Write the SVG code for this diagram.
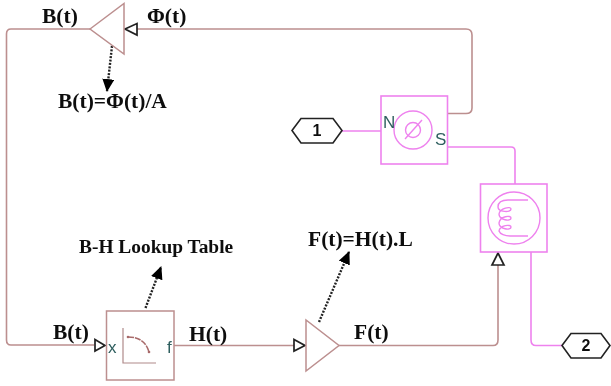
<svg xmlns="http://www.w3.org/2000/svg" width="611" height="386" viewBox="0 0 611 386">
<defs>
<filter id="soft" x="-2%" y="-2%" width="104%" height="104%"><feGaussianBlur stdDeviation="0.45"/></filter>
<marker id="dot" markerUnits="userSpaceOnUse" markerWidth="14" markerHeight="14" refX="12" refY="6" orient="auto"><path d="M0 0L13 6L0 12Z" fill="#000"/></marker>
</defs>
<style>
text{font-family:"Liberation Serif",serif;font-weight:bold;fill:#111}
.l{font-size:21.500px}
.m{font-size:19.400px}
.b{fill:none;stroke:#bc8f8f;stroke-width:1.6}
.br{fill:#fff;stroke:#bc8f8f;stroke-width:1.5}
.p{fill:none;stroke:#ee82ee;stroke-width:1.6}
.pr{fill:#fff;stroke:#ee82ee;stroke-width:1.6}
.ah{fill:#fff;stroke:#222;stroke-width:1.7}
.dots{fill:none;stroke:#222;stroke-width:2.4;stroke-dasharray:2 1.4}
.hex{fill:#fff;stroke:#222;stroke-width:1.6}
.n{font-family:"Liberation Sans",sans-serif;font-size:16px;font-weight:bold;text-anchor:middle}
.s{font-family:"Liberation Sans",sans-serif;font-size:17px;font-weight:normal;fill:#2f5f5f}
.t{fill:none;stroke:#b08a8a;stroke-width:1.2}
.c{fill:none;stroke:#ee82ee;stroke-width:1.4}
</style>
<g filter="url(#soft)">
<g id="connectors">
<path class="b" d="M90 29H11Q6.500 29 6.500 34V340Q6.500 345 11 345H94"/>
<path class="b" d="M137 29H466Q472 29 472 35V108Q472 113.500 466 113.500H447"/>
<path class="b" d="M174 345.500H295"/>
<path class="b" d="M339 345.500H493Q498 345.500 498 340V265"/>
<path class="p" d="M342 131H394"/>
<path class="p" d="M432 130H438Q441 130 441 133M440 147H511Q515 147 515 151V185"/>
<path class="p" d="M531 252V340Q531 345.500 536 345.500H563"/>
<path class="ah" d="M137 23.500V35L125 29Z"/>
<path class="ah" d="M95 339.500V351L105 345.500Z"/>
<path class="ah" d="M294 339.500V351L305 345.500Z"/>
<path class="ah" d="M492 265H504L498 253Z"/>
<path class="dots" d="M112 46L107 91" marker-end="url(#dot)"/>
<path class="dots" d="M145.500 308L161 267" marker-end="url(#dot)"/>
<path class="dots" d="M319 322L349 252" marker-end="url(#dot)"/>
</g>
<g id="gain-top"><path class="br" d="M90 29L124 3.500V54Z"/></g>
<g id="gain-bottom"><path class="br" d="M306 320V371L339 345.500Z"/></g>
<g id="lookup">
<rect class="br" x="106.500" y="311" width="67.500" height="69"/>
<path class="t" d="M123 328V363H156"/>
<path d="M128 337C138 337 146 341 149 352" fill="none" stroke="#a86a6a" stroke-width="1.5" stroke-dasharray="6 1"/>
<circle cx="128" cy="337" r="1.300" fill="#a86a6a"/><circle cx="149" cy="352" r="1.300" fill="#a86a6a"/>
<text class="s" x="108" y="353">x</text>
<text class="s" x="167" y="353">f</text>
</g>
<g id="flux-source">
<rect class="pr" x="381" y="96" width="66.500" height="68"/>
<circle class="c" cx="413" cy="130" r="19"/>
<circle class="c" cx="413" cy="130" r="7.500"/>
<path class="c" d="M405 139L422 120"/>
<text class="s" x="383" y="128">N</text>
<text class="s" x="435" y="145">S</text>
</g>
<g id="reluctance">
<rect class="pr" x="480.500" y="184" width="66.500" height="68"/>
<circle class="c" cx="514" cy="218" r="26"/>
<path class="c" d="M528 200H508C501 200 498 203 498 207C498 212 511 213 511 209C511 206 500 208 499 214C499 220 511 222 511 218C511 215 500 216 499 223C499 229 511 231 511 227C511 224 500 225 499 231C500 234 505 236 510 236H528"/>
</g>
<g id="port-1"><path class="hex" d="M292 130.500L301 118.500H333L342 130.500L333 143H301Z"/><text class="n" x="317" y="136">1</text></g>
<g id="port-2"><path class="hex" d="M562 345.500L571 333.500H601L610 345.500L601 358H571Z"/><text class="n" x="586" y="351">2</text></g>
<g id="labels">
<text class="l" x="42" y="23">B(t)</text>
<text class="l" x="147" y="23">Φ(t)</text>
<text class="l" x="58" y="108">B(t)=Φ(t)/A</text>
<text class="m" x="79" y="253">B-H Lookup Table</text>
<text class="l" x="308" y="246">F(t)=H(t).L</text>
<text class="l" x="53" y="339">B(t)</text>
<text class="l" x="189" y="341">H(t)</text>
<text class="l" x="354" y="339">F(t)</text>
</g>
</g>
</svg>
